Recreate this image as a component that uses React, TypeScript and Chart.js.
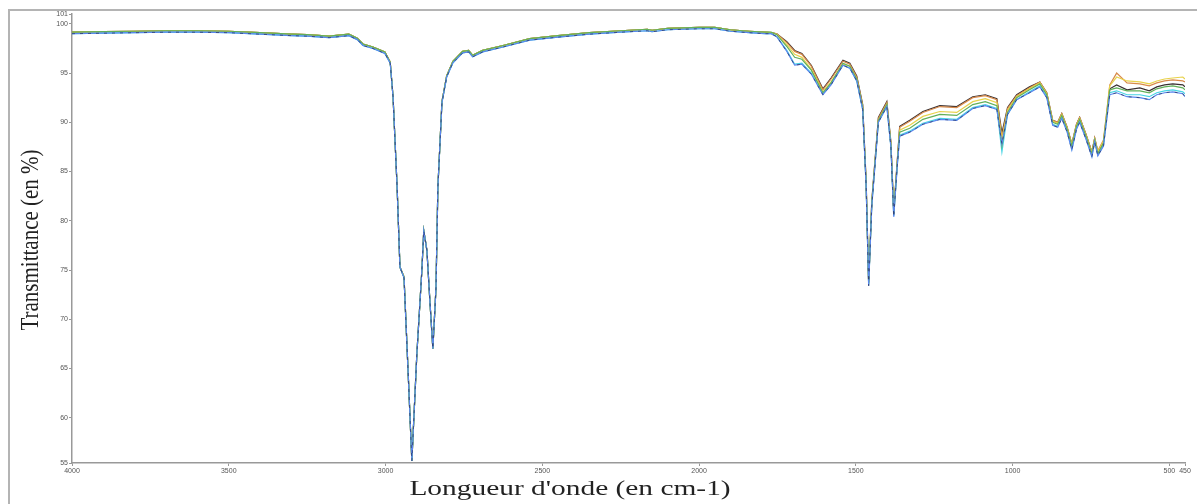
import React, { useEffect, useRef } from "react";
import { Chart, registerables } from "chart.js";

Chart.register(...registerables);

// High-wavenumber region (cm-1)
const wnHigh = [4000, 3900, 3800, 3700, 3600, 3500, 3400, 3300, 3250, 3180, 3117, 3090, 3072, 3040, 3002, 2985, 2976, 2963, 2954, 2941, 2928, 2916, 2900, 2884, 2878, 2868, 2858, 2849, 2839, 2833, 2820, 2805, 2785, 2754, 2735, 2722, 2690, 2625, 2540, 2450, 2350, 2250, 2165, 2150, 2100, 2000, 1950, 1900, 1840, 1790];
const highGreen = [99.15, 99.2, 99.25, 99.3, 99.3, 99.25, 99.1, 98.95, 98.9, 98.75, 98.95, 98.55, 97.95, 97.65, 97.15, 96.1, 92.6, 83.4, 75.3, 74.3, 64.7, 55.6, 66.5, 75.0, 79.0, 77.0, 71.6, 67.0, 73.2, 83.4, 92.1, 94.7, 96.2, 97.2, 97.3, 96.8, 97.3, 97.8, 98.5, 98.8, 99.1, 99.3, 99.45, 99.35, 99.55, 99.65, 99.65, 99.4, 99.25, 99.15];
const highBlue = [99.0, 99.05, 99.1, 99.15, 99.15, 99.1, 98.95, 98.8, 98.75, 98.6, 98.8, 98.4, 97.8, 97.5, 97.0, 96.0, 92.6, 83.4, 75.3, 74.2, 64.7, 55.6, 66.5, 75.0, 79.0, 77.0, 71.6, 67.0, 73.2, 83.4, 92.0, 94.6, 96.05, 97.05, 97.15, 96.65, 97.15, 97.65, 98.35, 98.65, 98.95, 99.15, 99.3, 99.2, 99.4, 99.5, 99.5, 99.25, 99.1, 99.0];

// Fingerprint region (cm-1)
const fpWn = [1770, 1752, 1720, 1695, 1672, 1642, 1605, 1579, 1541, 1519, 1497, 1478, 1467, 1459, 1449, 1428, 1401, 1388, 1379, 1368, 1360, 1328, 1286, 1232, 1178, 1127, 1087, 1050, 1034, 1016, 987, 946, 913, 891, 872, 856, 843, 826, 811, 796, 786, 766, 747, 738, 728, 710, 690, 668, 635, 594, 564, 540, 515, 489, 457, 450];
const fpBlack = [99.1, 99.0, 98.2, 97.3, 97.0, 95.8, 93.4, 94.5, 96.3, 96.0, 94.7, 91.8, 84.0, 73.8, 82.0, 90.5, 92.1, 88.0, 81.0, 86.0, 89.6, 90.2, 91.1, 91.7, 91.6, 92.6, 92.8, 92.4, 88.9, 91.5, 92.8, 93.6, 94.1, 93.0, 90.2, 90.0, 90.9, 89.5, 87.8, 89.8, 90.5, 88.8, 87.0, 88.4, 87.0, 88.0, 93.4, 93.8, 93.3, 93.5, 93.2, 93.6, 93.8, 93.9, 93.8, 93.6];
const fpOrange = [99.1, 99.0, 98.1, 97.2, 96.9, 95.7, 93.3, 94.4, 96.2, 95.9, 94.6, 91.7, 83.9, 73.7, 81.9, 90.4, 92.0, 87.9, 80.9, 85.9, 89.5, 90.1, 91.0, 91.6, 91.5, 92.5, 92.7, 92.3, 88.5, 91.4, 92.7, 93.5, 94.1, 93.0, 90.2, 90.0, 90.9, 89.5, 87.8, 89.8, 90.5, 88.8, 87.0, 88.4, 87.1, 88.2, 93.8, 95.0, 94.0, 93.9, 93.7, 94.0, 94.2, 94.3, 94.2, 94.1];
const fpYellow = [99.1, 98.95, 97.9, 96.9, 96.6, 95.4, 93.1, 94.1, 95.9, 95.7, 94.4, 91.5, 83.7, 73.6, 81.8, 90.2, 91.8, 87.8, 80.8, 85.8, 89.2, 89.7, 90.6, 91.1, 91.0, 92.1, 92.4, 92.0, 88.2, 91.2, 92.6, 93.4, 94.0, 92.9, 90.1, 89.9, 90.8, 89.4, 87.7, 89.7, 90.4, 88.7, 86.9, 88.3, 87.0, 88.1, 93.7, 94.6, 94.2, 94.1, 93.9, 94.2, 94.4, 94.5, 94.6, 94.4];
const fpGreen = [99.15, 98.9, 97.7, 96.6, 96.4, 95.3, 93.0, 94.0, 96.0, 95.7, 94.4, 91.5, 83.7, 73.6, 81.8, 90.2, 91.8, 87.7, 80.7, 85.7, 89.0, 89.4, 90.3, 90.8, 90.7, 91.8, 92.1, 91.7, 87.6, 91.0, 92.5, 93.3, 93.9, 92.8, 90.0, 89.8, 90.7, 89.3, 87.6, 89.6, 90.3, 88.6, 86.8, 88.2, 86.8, 87.9, 93.3, 93.5, 93.2, 93.2, 93.0, 93.4, 93.6, 93.7, 93.5, 93.3];
const fpCyan = [99.0, 98.7, 97.3, 95.9, 96.0, 95.0, 92.9, 93.9, 95.8, 95.5, 94.2, 91.3, 83.5, 73.5, 81.6, 90.0, 91.6, 87.5, 80.5, 85.5, 88.7, 89.1, 89.9, 90.4, 90.3, 91.5, 91.8, 91.4, 87.0, 90.8, 92.3, 93.1, 93.7, 92.6, 89.8, 89.6, 90.5, 89.1, 87.3, 89.4, 90.1, 88.4, 86.6, 88.1, 86.7, 87.7, 93.0, 93.2, 92.8, 92.8, 92.6, 93.0, 93.2, 93.3, 93.1, 92.9];
const fpBlue = [99.0, 98.7, 97.2, 95.8, 95.9, 94.9, 92.8, 93.8, 95.8, 95.5, 94.2, 91.3, 83.5, 73.4, 81.5, 90.0, 91.6, 87.5, 80.4, 85.5, 88.6, 89.0, 89.8, 90.3, 90.2, 91.4, 91.7, 91.3, 87.8, 90.8, 92.3, 93.0, 93.6, 92.5, 89.7, 89.5, 90.4, 89.0, 87.2, 89.3, 90.0, 88.3, 86.5, 88.0, 86.6, 87.6, 92.8, 93.0, 92.6, 92.5, 92.3, 92.8, 93.0, 93.1, 92.9, 92.6];

const xTicks = [4000, 3500, 3000, 2500, 2000, 1500, 1000, 500, 450];
const yTicks = [55.4, 60, 65, 70, 75, 80, 85, 90, 95, 100, 101];

const xTitle = "Longueur d'onde (en cm-1)";
const yTitle = "Transmittance (en %)";

function series(high: number[], fp: number[]) {
  return wnHigh
    .map((w, i) => ({ x: w, y: high[i] }))
    .concat(fpWn.map((w, i) => ({ x: w, y: fp[i] })));
}

const titlesPlugin = {
  id: "titles",
  afterDraw(chart: any) {
    const ctx = chart.ctx;
    ctx.save();
    ctx.fillStyle = "#222";
    ctx.textAlign = "center";
    ctx.textBaseline = "middle";
    ctx.font = "21px 'Liberation Serif', 'Times New Roman', serif";
    ctx.save();
    ctx.translate(570, 489);
    ctx.scale(1.4, 1);
    ctx.fillText(xTitle, 0, 0);
    ctx.restore();
    ctx.save();
    ctx.translate(31, 240);
    ctx.scale(1.2, 1);
    ctx.rotate(-Math.PI / 2);
    ctx.fillText(yTitle, 0, 0);
    ctx.restore();
    ctx.restore();
  },
};

export default function App() {
  const ref = useRef<HTMLCanvasElement | null>(null);
  useEffect(() => {
    if (!ref.current) return;
    const mk = (label: string, color: string, data: any[], extra: any = {}) => ({
      label,
      data,
      borderColor: color,
      backgroundColor: color,
      borderWidth: 1.2,
      pointRadius: 0,
      tension: 0,
      fill: false,
      ...extra,
    });
    const chart = new Chart(ref.current, {
      type: "line",
      data: {
        datasets: [
          mk("dashed", "rgba(40,50,90,0.7)", series(highBlue, fpBlue), { borderDash: [3, 5], borderWidth: 1 }),
          mk("blue", "#5a86ee", series(highBlue, fpBlue)),
          mk("green", "#62b05a", series(highGreen, fpGreen)),
          mk("cyan", "#48d4e4", series(highBlue, fpCyan)),
          mk("yellow", "#e8d24a", series(highGreen, fpYellow)),
          mk("orange", "#d88a4a", series(highGreen, fpOrange)),
          mk("black", "#3a3030", series(highGreen, fpBlack)),
        ],
      },
      options: {
        animation: false,
        responsive: false,
        layout: { padding: { top: 14, right: 12, left: 0, bottom: 0 } },
        plugins: { legend: { display: false }, tooltip: { enabled: false } },
        scales: {
          x: {
            type: "linear",
            reverse: true,
            min: 450,
            max: 4000,
            afterBuildTicks: (s: any) => {
              s.ticks = xTicks.map((v) => ({ value: v }));
            },
            afterFit: (s: any) => {
              s.height = 41;
            },
            ticks: {
              autoSkip: false,
              maxRotation: 0,
              padding: 1,
              color: "#555",
              font: { size: 7, family: "'Liberation Sans', Arial, sans-serif" },
              callback: (v: any) => String(v),
            },
            grid: { drawOnChartArea: false, tickLength: 3, color: "#999" },
            border: { color: "#999", width: 1.5 },
          },
          y: {
            type: "linear",
            min: 55.4,
            max: 101,
            afterBuildTicks: (s: any) => {
              s.ticks = yTicks.map((v) => ({ value: v }));
            },
            afterFit: (s: any) => {
              s.width = 72;
            },
            ticks: {
              autoSkip: false,
              padding: 1,
              color: "#555",
              font: { size: 7, family: "'Liberation Sans', Arial, sans-serif" },
              callback: (v: any) => String(Math.round(Number(v))),
            },
            grid: { drawOnChartArea: false, tickLength: 3, color: "#999" },
            border: { color: "#999", width: 1.5 },
          },
        },
      },
      plugins: [titlesPlugin],
    } as any);
    return () => chart.destroy();
  }, []);

  return (
    <div style={{ position: "absolute", left: 0, top: 0, width: 1197, height: 504, overflow: "hidden", background: "#fff" }}>
      <div
        style={{
          position: "absolute",
          left: 8,
          top: 9,
          width: 1189,
          height: 495,
          borderLeft: "2px solid #b4b4b4",
          borderTop: "2px solid #b4b4b4",
          boxSizing: "border-box",
        }}
      />
      <canvas ref={ref} width={1197} height={504} style={{ position: "absolute", left: 0, top: 0, display: "block" }} />
    </div>
  );
}
